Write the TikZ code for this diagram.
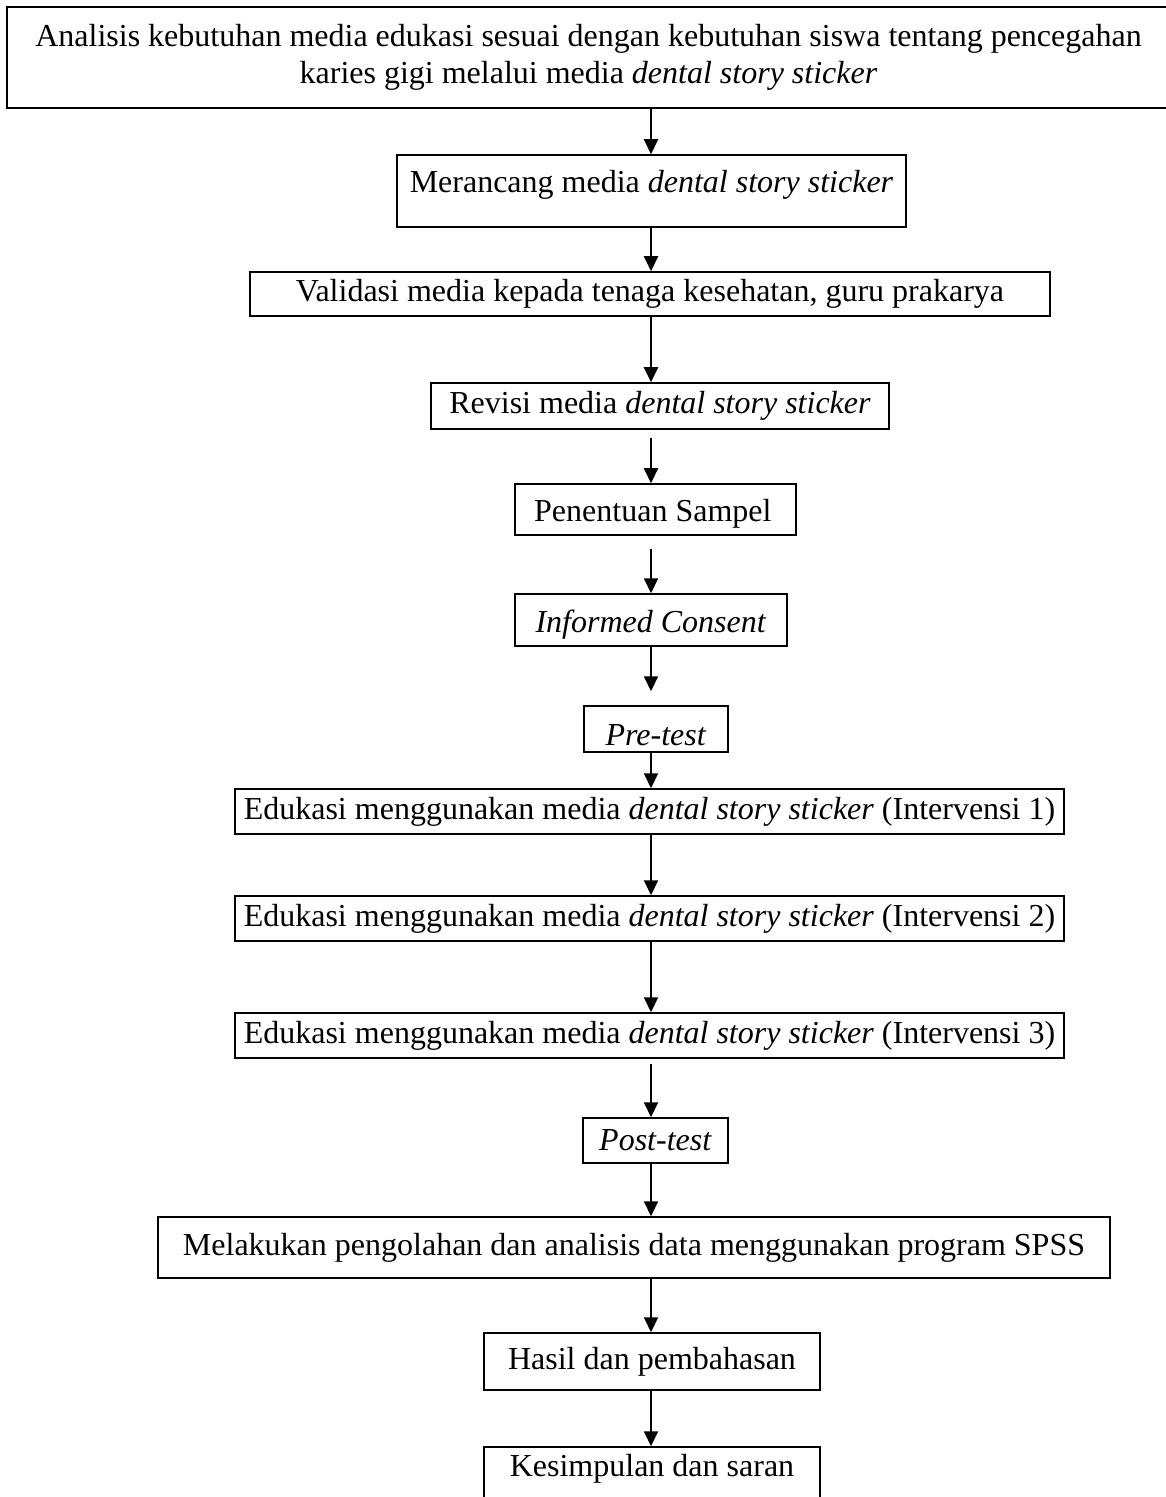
\documentclass[tikz,border=0pt]{standalone}
\usepackage{fontspec}
\setmainfont{Liberation Serif}
\usetikzlibrary{arrows.meta}

\tikzset{
  box/.style={draw, line width=0.6pt, inner sep=0pt, align=center,
              font=\fontsize{12.8}{14.6}\selectfont},
  arr/.style={line width=0.8pt, -{Triangle[length=6pt, width=5.6pt]}}
}

\begin{document}
\begin{tikzpicture}[x=0.4pt, y=-0.4pt]
      \useasboundingbox (0, 0) rectangle (1165, 1497);
      \coordinate (spine) at (651, 0);
      \node[box, minimum width=465.2pt, minimum height=40.4pt] (analisis) at (588.5, 57.5)
            {Analisis kebutuhan media edukasi sesuai dengan kebutuhan siswa tentang pencegahan\\
             karies gigi melalui media \textit{dental story sticker}};
      \node[box, minimum width=203.6pt, minimum height=28.8pt, text depth=8pt] (rancang) at (651.5, 191)
            {Merancang media \textit{dental story sticker}};
      \node[box, minimum width=320pt, minimum height=17.6pt] (validasi) at (650, 294)
            {Validasi media kepada tenaga kesehatan, guru prakarya};
      \node[box, minimum width=183.2pt, minimum height=18.4pt] (revisi) at (660, 406)
            {Revisi media \textit{dental story sticker}};
      \node[box, minimum width=112.4pt, minimum height=20.4pt, text height=12.5pt] (sampel) at (655.5, 509.5)
            {Penentuan Sampel\,};
      \node[box, minimum width=108.8pt, minimum height=20.8pt, text height=12.5pt] (consent) at (651, 620)
            {\textit{Informed Consent}};
      \node[box, minimum width=57.6pt, minimum height=18.4pt, text height=13pt] (pre) at (656, 729)
            {\textit{Pre-test}};
      \node[box, minimum width=331.6pt, minimum height=18pt] (edu1) at (649.5, 811.5)
            {Edukasi menggunakan media \textit{dental story sticker} (Intervensi 1)};
      \node[box, minimum width=331.6pt, minimum height=18pt] (edu2) at (649.5, 918.5)
            {Edukasi menggunakan media \textit{dental story sticker} (Intervensi 2)};
      \node[box, minimum width=331.6pt, minimum height=18pt] (edu3) at (649.5, 1035.5)
            {Edukasi menggunakan media \textit{dental story sticker} (Intervensi 3)};
      \node[box, minimum width=58pt, minimum height=18pt] (post) at (655.5, 1140.5)
            {\textit{Post-test}};
      \node[box, minimum width=380.8pt, minimum height=24.4pt] (olah) at (634, 1247.5)
            {Melakukan pengolahan dan analisis data menggunakan program SPSS};
      \node[box, minimum width=134.4pt, minimum height=22.8pt] (hasil) at (652, 1361.5)
            {Hasil dan pembahasan};
      \node[box, minimum width=134.4pt, minimum height=28pt, text depth=13pt] (simpulan) at (652, 1482)
            {Kesimpulan dan saran};
      % alur
      \path[arr] (analisis.south -| spine) edge (rancang.north -| spine)
                 (rancang.south -| spine) edge (validasi.north -| spine)
                 (validasi.south -| spine) edge (revisi.north -| spine)
                 (revisi.south -| spine) edge [shorten <=3.2pt] (sampel.north -| spine)
                 (sampel.south -| spine) edge [shorten <=5.2pt] (consent.north -| spine)
                 (consent.south -| spine) edge [shorten >=5.6pt] (pre.north -| spine)
                 (pre.south -| spine) edge (edu1.north -| spine)
                 (edu1.south -| spine) edge (edu2.north -| spine)
                 (edu2.south -| spine) edge (edu3.north -| spine)
                 (edu3.south -| spine) edge [shorten <=2pt] (post.north -| spine)
                 (post.south -| spine) edge (olah.north -| spine)
                 (olah.south -| spine) edge (hasil.north -| spine)
                 (hasil.south -| spine) edge (simpulan.north -| spine);
\end{tikzpicture}
\end{document}
